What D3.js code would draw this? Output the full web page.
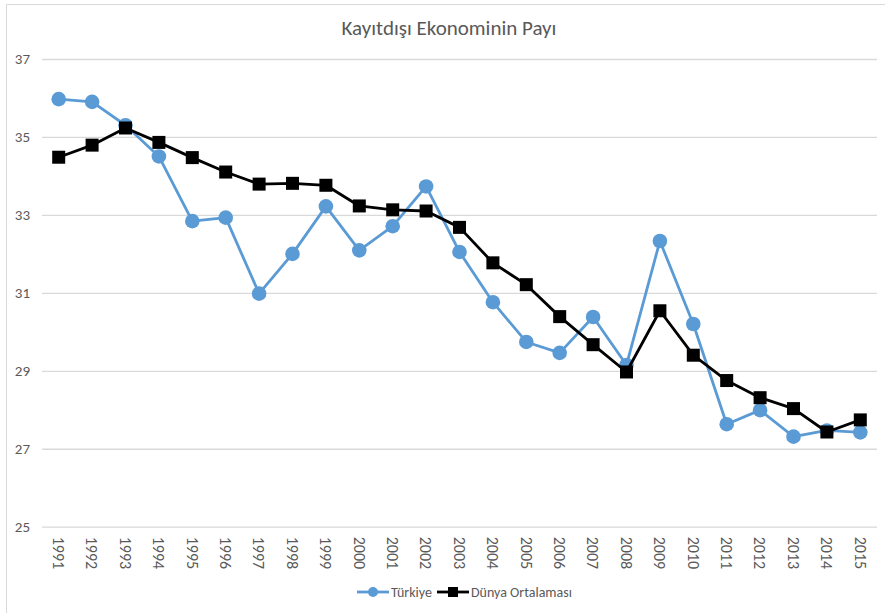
<!DOCTYPE html>
<html>
<head>
	<meta charset="UTF-8">
	<style>
		body { margin: 0; background: #fff; }
		text { font-family: Calibri, Carlito, "Open Sans", "Noto Sans", sans-serif; fill: #595959; }
	</style>
</head>
<body>
	<script src="https://cdn.jsdelivr.net/npm/d3@7"></script>
	<script>
		const years = ['1991','1992','1993','1994','1995','1996','1997','1998','1999','2000','2001','2002','2003',
			'2004','2005','2006','2007','2008','2009','2010','2011','2012','2013','2014','2015'];
		const turkiye = [35.97, 35.9, 35.3, 34.5, 32.84, 32.93, 30.98, 32.0, 33.22, 32.09, 32.71, 33.73, 32.05,
			30.76, 29.74, 29.46, 30.38, 29.15, 32.33, 30.2, 27.63, 27.99, 27.31, 27.47, 27.42];
		const dunya = [34.48, 34.79, 35.23, 34.86, 34.47, 34.1, 33.79, 33.81, 33.76, 33.23, 33.13, 33.1, 32.68,
			31.77, 31.21, 30.39, 29.67, 28.97, 30.54, 29.4, 28.75, 28.31, 28.03, 27.43, 27.74];
		const yTicks = [25, 27, 29, 31, 33, 35, 37];
		const title = 'Kayıtdışı Ekonominin Payı';
		const seriesNames = ['Türkiye', 'Dünya Ortalaması'];

		const width = 885, height = 613;
		const plotLeft = 42, plotRight = 877, plotTop = 59, plotBottom = 526.7;

		const svg = d3.select('body').append('svg')
			.attr('width', width)
			.attr('height', height);

		// chart frame (only top and left edges show in the picture)
		svg.append('path')
			.attr('d', `M6.5,${height}V4.5H${width}`)
			.attr('fill', 'none')
			.attr('stroke', '#d9d9d9')
			.attr('stroke-width', 1);

		const x = d3.scaleBand().domain(years).range([plotLeft, plotRight]);
		const y = d3.scaleLinear().domain([25, 37]).range([plotBottom, plotTop]);
		const cx = d => x(d) + x.bandwidth() / 2;

		svg.append('text')
			.attr('x', 449)
			.attr('y', 35)
			.attr('text-anchor', 'middle')
			.style('font-size', '21px')
			.text(title);

		// grid + y labels
		const yAxis = svg.append('g')
			.attr('transform', `translate(${plotLeft},0)`)
			.call(d3.axisLeft(y).tickValues(yTicks).tickSize(-(plotRight - plotLeft)).tickPadding(12));
		yAxis.select('.domain').remove();
		yAxis.selectAll('line').attr('stroke', '#d9d9d9').attr('stroke-width', 1.3);
		yAxis.selectAll('text').style('font-size', '15px').style('fill', '#595959').attr('font-family', null);

		// x labels
		const xAxis = svg.append('g')
			.attr('transform', `translate(0,${plotBottom})`)
			.call(d3.axisBottom(x).tickSize(0));
		xAxis.select('.domain').remove();
		xAxis.selectAll('text')
			.attr('font-family', null)
			.style('font-size', '16px')
			.style('fill', '#595959')
			.attr('text-anchor', 'start')
			.attr('transform', 'rotate(90)')
			.attr('x', 10)
			.attr('y', 0)
			.attr('dy', '0.35em');

		const line = d3.line().x((d, i) => cx(years[i])).y(d => y(d));

		svg.append('path')
			.datum(turkiye)
			.attr('fill', 'none')
			.attr('stroke', '#5b9bd5')
			.attr('stroke-width', 2.8)
			.attr('stroke-linejoin', 'round')
			.attr('d', line);
		svg.append('g').selectAll('circle')
			.data(turkiye)
			.join('circle')
			.attr('cx', (d, i) => cx(years[i]))
			.attr('cy', d => y(d))
			.attr('r', 7.3)
			.attr('fill', '#5b9bd5');

		svg.append('path')
			.datum(dunya)
			.attr('fill', 'none')
			.attr('stroke', '#000')
			.attr('stroke-width', 2.8)
			.attr('stroke-linejoin', 'round')
			.attr('d', line);
		const sq = 13;
		svg.append('g').selectAll('rect')
			.data(dunya)
			.join('rect')
			.attr('x', (d, i) => cx(years[i]) - sq / 2)
			.attr('y', d => y(d) - sq / 2)
			.attr('width', sq)
			.attr('height', sq)
			.attr('fill', '#000');

		// legend
		const lg = svg.append('g').attr('transform', 'translate(0,592)');
		lg.append('line').attr('x1', 357).attr('x2', 389).attr('y1', 0).attr('y2', 0)
			.attr('stroke', '#5b9bd5').attr('stroke-width', 2.8);
		lg.append('circle').attr('cx', 373).attr('cy', 0).attr('r', 5).attr('fill', '#5b9bd5');
		lg.append('text').attr('x', 391).attr('y', 0).attr('dy', '0.35em')
			.style('font-size', '14px').text(seriesNames[0]);
		lg.append('line').attr('x1', 437).attr('x2', 469).attr('y1', 0).attr('y2', 0)
			.attr('stroke', '#000').attr('stroke-width', 2.8);
		lg.append('rect').attr('x', 448).attr('y', -5).attr('width', 10).attr('height', 10).attr('fill', '#000');
		lg.append('text').attr('x', 471).attr('y', 0).attr('dy', '0.35em')
			.style('font-size', '14px').text(seriesNames[1]);
	</script>
</body>
</html>
